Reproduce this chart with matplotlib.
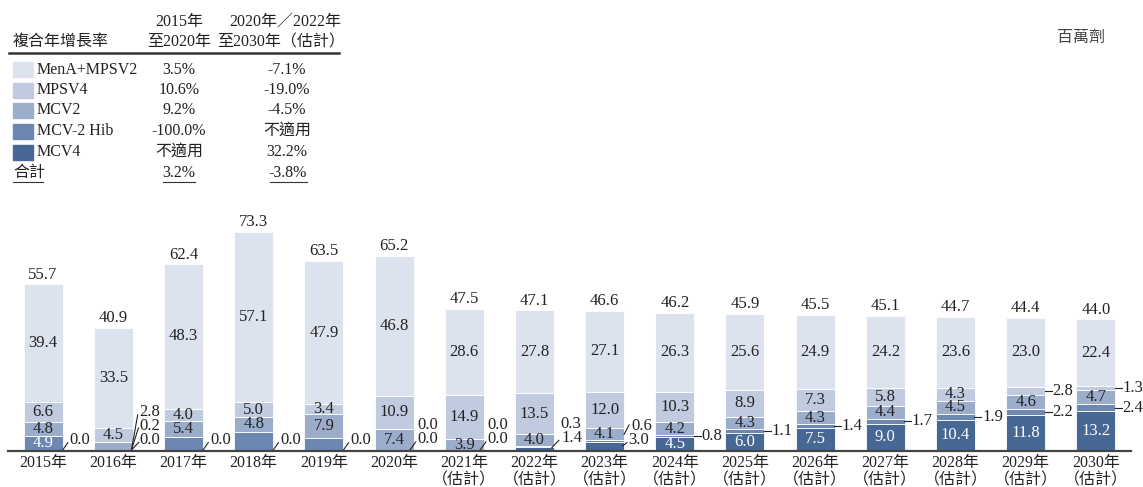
import matplotlib
matplotlib.use('Agg')
import matplotlib.pyplot as plt
from matplotlib.patches import Rectangle
from matplotlib.lines import Line2D

plt.rcParams['font.family'] = ['Liberation Serif', 'Noto Sans CJK TC']

# data (million doses)
years = ['2015年', '2016年', '2017年', '2018年', '2019年', '2020年',
         '2021年\n（估計）', '2022年\n（估計）', '2023年\n（估計）', '2024年\n（估計）',
         '2025年\n（估計）', '2026年\n（估計）', '2027年\n（估計）', '2028年\n（估計）',
         '2029年\n（估計）', '2030年\n（估計）']
series_names = ['MenA+MPSV2', 'MPSV4', 'MCV2', 'MCV-2 Hib', 'MCV4']
mena_mpsv2 = [39.4, 33.5, 48.3, 57.1, 47.9, 46.8, 28.6, 27.8, 27.1, 26.3, 25.6, 24.9, 24.2, 23.6, 23.0, 22.4]
mpsv4 = [6.6, 4.5, 4.0, 5.0, 3.4, 10.9, 14.9, 13.5, 12.0, 10.3, 8.9, 7.3, 5.8, 4.3, 2.8, 1.3]
mcv2 = [4.8, 2.8, 5.4, 4.8, 7.9, 7.4, 3.9, 4.0, 4.1, 4.2, 4.3, 4.3, 4.4, 4.5, 4.6, 4.7]
mcv2_hib = [4.9, 0.2, 4.7, 6.4, 4.3, 0.0, 0.0, 0.3, 0.6, 0.8, 1.1, 1.4, 1.7, 1.9, 2.2, 2.4]
mcv4 = [0.0, 0.0, 0.0, 0.0, 0.0, 0.0, 0.0, 1.4, 3.0, 4.5, 6.0, 7.5, 9.0, 10.4, 11.8, 13.2]
totals = [55.7, 40.9, 62.4, 73.3, 63.5, 65.2, 47.5, 47.1, 46.6, 46.2, 45.9, 45.5, 45.1, 44.7, 44.4, 44.0]

cagr_2015_2020 = ['3.5%', '10.6%', '9.2%', '-100.0%', '不適用']
cagr_2022_2030 = ['-7.1%', '-19.0%', '-4.5%', '不適用', '32.2%']
cagr_total = ['3.2%', '-3.8%']

colors = ['#dce3ef', '#c1cbdf', '#9cadcb', '#6d87b3', '#476794']
txt = '#222222'
lfs = 12  # value labels

W, H = 1143, 487
fig = plt.figure(figsize=(W / 100, H / 100), dpi=100)


def px(x, y):
    return x / W, 1 - y / H


ax = fig.add_axes([8 / W, (H - 450.7) / H, 1123 / W, 239 / H])

# stack from the bottom: MCV4, MCV2 Hib, MCV2, MPSV4, MenA+MPSV2
stack = [mcv4, mcv2_hib, mcv2, mpsv4, mena_mpsv2]
stack_colors = colors[::-1]
x = list(range(len(years)))
bw = 0.556
bottoms = [0.0] * len(x)
seg = []  # (bottom, value) per series per bar
for vals, c in zip(stack, stack_colors):
    ax.bar(x, vals, bw, bottom=bottoms, color=c, edgecolor='white', linewidth=0.6)
    seg.append(list(zip(bottoms, vals)))
    bottoms = [b + v for b, v in zip(bottoms, vals)]

# values drawn beside the bar instead of inside: (bar, stack level)
outside = {(i, 0) for i in range(len(x))} | {(i, 1) for i in range(1, len(x))}
outside |= {(1, 2), (14, 3), (15, 3)}
outside -= {(i, 0) for i in range(9, 16)}

for lvl in range(5):
    for i in x:
        if (i, lvl) in outside:
            continue
        b, v = seg[lvl][i]
        if v <= 0:
            continue
        c = 'white' if lvl <= 1 else txt
        ax.text(i, b + v / 2, f'{v:.1f}', ha='center', va='center', fontsize=lfs, color=c)

# totals above bars
for i, t in enumerate(totals):
    ax.annotate(f'{t:.1f}', (i, bottoms[i]), xytext=(0, 7), textcoords='offset points',
                ha='center', va='center', fontsize=lfs, color=txt)


def side_label(i, lvl, ty, dx, line=None):
    xr = i + bw / 2
    v = seg[lvl][i][1]
    if line is not None:
        (x0, y0), (x1, y1) = line
        ax.plot([xr + x0, xr + x1], [y0, y1], color=txt, lw=0.8, clip_on=False)
    ax.text(xr + dx, ty, f'{v:.1f}', ha='left', va='center', fontsize=lfs, color=txt)


for i in (0, 2, 3, 4):
    side_label(i, 0, 3.6, 0.1, ((0.0, 0.2), (0.075, 2.7)))
side_label(1, 2, 12.8, 0.09, ((-0.02, 0.2), (0.07, 12.0)))
side_label(1, 1, 8.3, 0.09, ((-0.02, 0.2), (0.08, 7.6)))
side_label(1, 0, 3.6, 0.09, ((-0.02, 0.2), (0.085, 2.8)))
for i in (5, 6):
    side_label(i, 1, 8.6, 0.05)
    side_label(i, 0, 3.9, 0.05, ((-0.05, 0.3), (0.03, 2.9)))
side_label(7, 1, 8.8, 0.09)
side_label(7, 0, 4.2, 0.11, ((-0.03, 1.0), (0.07, 3.5)))
side_label(8, 1, 8.3, 0.1, ((0.0, 5.5), (0.07, 8.6)))
side_label(8, 0, 3.6, 0.06, ((-0.02, 1.6), (0.04, 2.7)))
for i, lvl in [(9, 1), (10, 1), (11, 1), (12, 1), (13, 1), (14, 1), (15, 1), (14, 3), (15, 3)]:
    b, v = seg[lvl][i]
    yc = b + v / 2
    side_label(i, lvl, yc, 0.1, ((-0.01, yc), (0.09, yc)))

ax.set_xlim(-0.5, 15.5)
ax.set_ylim(0, 80)
for s in ('top', 'right', 'left'):
    ax.spines[s].set_visible(False)
ax.spines['bottom'].set_color('#444444')
ax.spines['bottom'].set_linewidth(1.6)
ax.set_yticks([])
ax.set_xticks(x)
ax.set_xticklabels(years, fontsize=11.5, color=txt, linespacing=1.1)
ax.tick_params(axis='x', length=0, pad=3)

# growth rate table
fs = 11.5
fig.text(*px(13, 42), '複合年增長率', fontsize=fs, color=txt, ha='left', va='center')
fig.text(*px(179, 22), '2015年', fontsize=fs, color=txt, ha='center', va='center')
fig.text(*px(179, 42), '至2020年', fontsize=fs, color=txt, ha='center', va='center')
fig.text(*px(285, 22), '2020年／2022年', fontsize=fs, color=txt, ha='center', va='center')
fig.text(*px(281, 42), '至2030年（估計）', fontsize=fs, color=txt, ha='center', va='center')
fig.add_artist(Line2D([9 / W, 339 / W], [1 - 53 / H] * 2, color='#333333', lw=1.8))

row_y = [69.5, 90, 110.5, 131, 152]
for name, c, y, a, b in zip(series_names, colors, row_y, cagr_2015_2020, cagr_2022_2030):
    x0, y0 = px(13, y + 7.5)
    fig.add_artist(Rectangle((x0, y0), 20 / W, 15 / H, color=c, transform=fig.transFigure))
    fig.text(*px(37, y), name, fontsize=fs, color=txt, ha='left', va='center')
    fig.text(*px(179, y), a, fontsize=fs, color=txt, ha='center', va='center')
    fig.text(*px(287, y), b, fontsize=fs, color=txt, ha='center', va='center')

fig.text(*px(13, 173), '合計', fontsize=fs, color=txt, ha='left', va='center')
fig.text(*px(179, 173), cagr_total[0], fontsize=fs, color=txt, ha='center', va='center')
fig.text(*px(288, 173), cagr_total[1], fontsize=fs, color=txt, ha='center', va='center')
for xa, xb in [(13, 43), (163, 195), (270, 307)]:
    fig.add_artist(Line2D([xa / W, xb / W], [1 - 182 / H] * 2, color='#333333', lw=0.8))

fig.text(*px(1081, 38), '百萬劑', fontsize=11.5, color='#444444', ha='center', va='center', style='italic')

fig.savefig('out.png', dpi=100)
